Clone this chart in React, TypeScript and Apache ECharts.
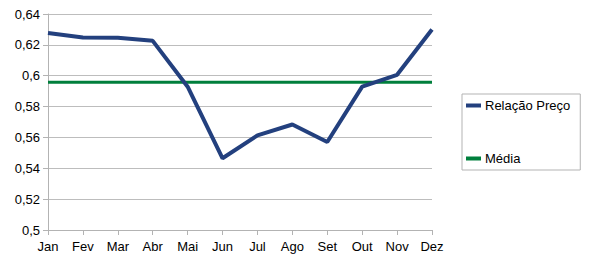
import React, { useEffect, useRef } from "react";
import * as echarts from "echarts";

const months = ["Jan", "Fev", "Mar", "Abr", "Mai", "Jun", "Jul", "Ago", "Set", "Out", "Nov", "Dez"];
const relacaoPreco = [0.6277, 0.6247, 0.6246, 0.6226, 0.5929, 0.5465, 0.5613, 0.5684, 0.557, 0.5929, 0.6006, 0.630];
const media = [0.5958, 0.5958, 0.5958, 0.5958, 0.5958, 0.5958, 0.5958, 0.5958, 0.5958, 0.5958, 0.5958, 0.5958];

const FONT = "'Liberation Sans', Arial, sans-serif";

export default function App() {
  const ref = useRef<HTMLDivElement>(null);
  useEffect(() => {
    if (!ref.current) return;
    const chart = echarts.init(ref.current, null, { renderer: "svg" });
    chart.setOption({
      animation: false,
      backgroundColor: "#ffffff",
      textStyle: { fontFamily: FONT },
      grid: { left: 48, right: 177, top: 14, bottom: 38 },
      legend: {
        orient: "vertical",
        left: 462,
        top: 94,
        padding: [5, 10, 5, 4],
        itemGap: 40,
        itemWidth: 15,
        itemHeight: 4,
        borderColor: "#b3b3b3",
        borderWidth: 1,
        icon: "rect",
        textStyle: { fontSize: 13, color: "#000", fontFamily: FONT, padding: [0, 0, 0, -1] },
        data: ["Relação Preço", "Média"],
      },
      xAxis: {
        type: "category",
        data: months,
        boundaryGap: false,
        axisLine: { lineStyle: { color: "#b3b3b3", width: 1 } },
        axisTick: { show: true, length: 5, lineStyle: { color: "#b3b3b3" }, alignWithLabel: true },
        axisLabel: { color: "#000", fontSize: 13, margin: 10, fontFamily: FONT },
        splitLine: { show: false },
      },
      yAxis: {
        type: "value",
        min: 0.5,
        max: 0.64,
        interval: 0.02,
        axisLine: { show: true, lineStyle: { color: "#b3b3b3", width: 1 } },
        axisTick: { show: true, length: 5, lineStyle: { color: "#b3b3b3" } },
        axisLabel: {
          color: "#000",
          fontSize: 13,
          margin: 8,
          fontFamily: FONT,
          formatter: (v: number) => String(Math.round(v * 100) / 100).replace(".", ","),
        },
        splitLine: { show: true, lineStyle: { color: "#bdbdbd", width: 1 } },
      },
      series: [
        {
          name: "Relação Preço",
          type: "line",
          data: relacaoPreco,
          showSymbol: false,
          symbol: "none",
          lineStyle: { color: "#23407e", width: 4 },
          itemStyle: { color: "#23407e" },
          z: 3,
        },
        {
          name: "Média",
          type: "line",
          data: media,
          showSymbol: false,
          symbol: "none",
          lineStyle: { color: "#007f3c", width: 3 },
          itemStyle: { color: "#007f3c" },
          z: 2,
        },
      ],
    });
    return () => chart.dispose();
  }, []);
  return <div ref={ref} style={{ width: 609, height: 268, position: "absolute", left: 0, top: 0 }} />;
}
